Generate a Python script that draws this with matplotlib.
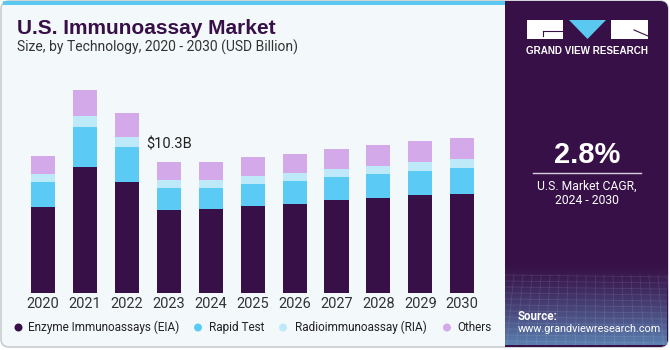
import numpy as np
import matplotlib
matplotlib.use("Agg")
import matplotlib.pyplot as plt
from matplotlib.patches import Rectangle, FancyBboxPatch, Polygon, Circle

# Data (USD Billion)
years = ["2020", "2021", "2022", "2023", "2024", "2025", "2026", "2027", "2028", "2029", "2030"]
eia = [6.77, 9.88, 8.76, 6.56, 6.59, 6.83, 7.03, 7.30, 7.48, 7.69, 7.81]
rapid = [1.96, 3.16, 2.72, 1.68, 1.67, 1.73, 1.78, 1.83, 1.86, 1.91, 2.02]
ria = [0.63, 0.86, 0.76, 0.65, 0.63, 0.63, 0.63, 0.60, 0.65, 0.71, 0.68]
others = [1.44, 2.04, 1.88, 1.41, 1.41, 1.49, 1.51, 1.57, 1.65, 1.62, 1.67]
series_names = ["Enzyme Immunoassays (EIA)", "Rapid Test", "Radioimmunoassay (RIA)", "Others"]
colors = ["#371047", "#5BCBF5", "#BDE9F9", "#D4A9EA"]
annot_year = "2023"
annot_text = "$10.3B"
cagr = "2.8%"

W, H = 670, 350
plt.rcParams['font.family'] = ['Roboto', 'DejaVu Sans']
fig = plt.figure(figsize=(W / 100, H / 100), dpi=100)
fig.patch.set_facecolor("white")

# overlay in pixel coordinates (y down) for the card decoration
bg = fig.add_axes([0, 0, 1, 1], zorder=0)
bg.set_xlim(0, W)
bg.set_ylim(H, 0)
bg.axis("off")

bg.add_patch(FancyBboxPatch((1, 1), W - 3, H - 4, boxstyle="round,pad=0,rounding_size=8",
                            fc="#F3F8FB", ec="#C9CDD1", lw=1.2))
bg.add_patch(Rectangle((3, 0.5), 502, 4, fc="#5BC8F0", ec="none"))

# right panel
bg.add_patch(FancyBboxPatch((505, 1), W - 507, H - 4, boxstyle="round,pad=0,rounding_size=8",
                            fc="#371047", ec="none"))
bg.add_patch(Rectangle((505, 1), 12, H - 4, fc="#371047", ec="none"))
grad = np.linspace(0, 1, 80)[:, None]
c0 = np.array([0x37, 0x10, 0x47]) / 255
c1 = np.array([0x5a, 0x7f, 0xb0]) / 255
img = c0 + (c1 - c0) * grad[..., None] ** 1.3
bg.imshow(img * np.ones((1, 10, 1)), extent=(505, W - 3, 345, 262), aspect="auto", zorder=1)
for k in range(12):
    yy = 275 + k * 6
    bg.plot([505, W - 3], [yy, yy + 2], color="white", alpha=0.1, lw=0.6, zorder=2)
for k in range(20):
    xx = 505 + k * 9
    bg.plot([xx, xx - 8 + k * 0.8], [275, 345], color="white", alpha=0.1, lw=0.6, zorder=2)

# logo
bg.add_patch(Rectangle((527, 20), 36, 19, fc="white", ec="none", zorder=3))
bg.plot([543, 563], [31, 31], color="#371047", lw=0.8, zorder=4)
bg.plot([543, 543], [31, 36], color="#371047", lw=0.8, zorder=4)
bg.add_patch(Polygon([(569, 20), (606, 20), (587.5, 39)], fc="#5BC8F0", ec="none", zorder=3))
bg.add_patch(Rectangle((611, 20), 37, 19, fc="white", ec="none", zorder=3))
bg.plot([634, 648], [30, 36], color="#371047", lw=0.8, zorder=4)
bg.text(587.5, 51, "GRAND VIEW RESEARCH", color="white", fontsize=7.1, fontweight="bold",
        ha="center", va="center", zorder=4, family=["Liberation Sans"])

bg.text(587, 155, cagr, color="white", fontsize=21, fontweight="bold", ha="center", va="center",
        family=["Liberation Sans"])
bg.plot([533, 641], [173, 173], color="#D8D0DD", lw=1)
bg.text(587, 186, "U.S. Market CAGR,", color="white", fontsize=8.7, ha="center", va="center")
bg.text(587, 200.5, "2024 - 2030", color="white", fontsize=8.7, ha="center", va="center")
bg.text(518, 316.5, "Source:", color="white", fontsize=8.3, fontweight="bold", ha="left", va="center", zorder=4)
bg.text(518, 329.5, "www.grandviewresearch.com", color="white", fontsize=7.8, ha="left", va="center", zorder=4)

# titles
bg.text(17, 29, "U.S. Immunoassay Market", color="#371047", fontsize=15, fontweight="bold",
        ha="left", va="center", family=["Liberation Sans"])
bg.text(17, 47, "Size, by Technology, 2020 - 2030 (USD Billion)", color="#333333", fontsize=10,
        ha="left", va="center")

# legend
legend_pos = [(18.5, 27.5), (198, 209), (283, 295), (447, 457)]
for (mx, tx), name, col in zip(legend_pos, series_names, colors):
    bg.add_patch(Circle((mx, 327.5), 4, fc=col, ec="none"))
    bg.text(tx, 327.5, name, color="#222222", fontsize=8.5, ha="left", va="center")

# chart
px_per_unit = 131.3 / 10.3
x = np.arange(len(years))
spacing = 41.93
left_px = 43 - 0.8 * spacing
right_px = 462.3 + 0.8 * spacing
bottom_px = H - 293.3
top_px = H - 85
ax = fig.add_axes([left_px / W, bottom_px / H, (right_px - left_px) / W, (top_px - bottom_px) / H], zorder=2)
ax.patch.set_alpha(0)
ax.set_xlim(-0.8, len(years) - 1 + 0.8)
ax.set_ylim(0, (top_px - bottom_px) / px_per_unit)

bottom = np.zeros(len(years))
for vals, col in zip([eia, rapid, ria, others], colors):
    ax.bar(x, vals, width=0.575, bottom=bottom, color=col, edgecolor="none", zorder=2)
    bottom += np.array(vals)

i = years.index(annot_year)
ax.text(i, bottom[i] + 17 / px_per_unit, annot_text, fontsize=10.5, color="#222222",
        ha="center", va="center")

ax.set_xticks(x)
ax.set_xticklabels(years, fontsize=10.5, color="#333333")
ax.tick_params(axis="x", length=0, pad=3)
ax.set_yticks([])
for s in ax.spines.values():
    s.set_visible(False)

fig.savefig("out.png", dpi=100)
